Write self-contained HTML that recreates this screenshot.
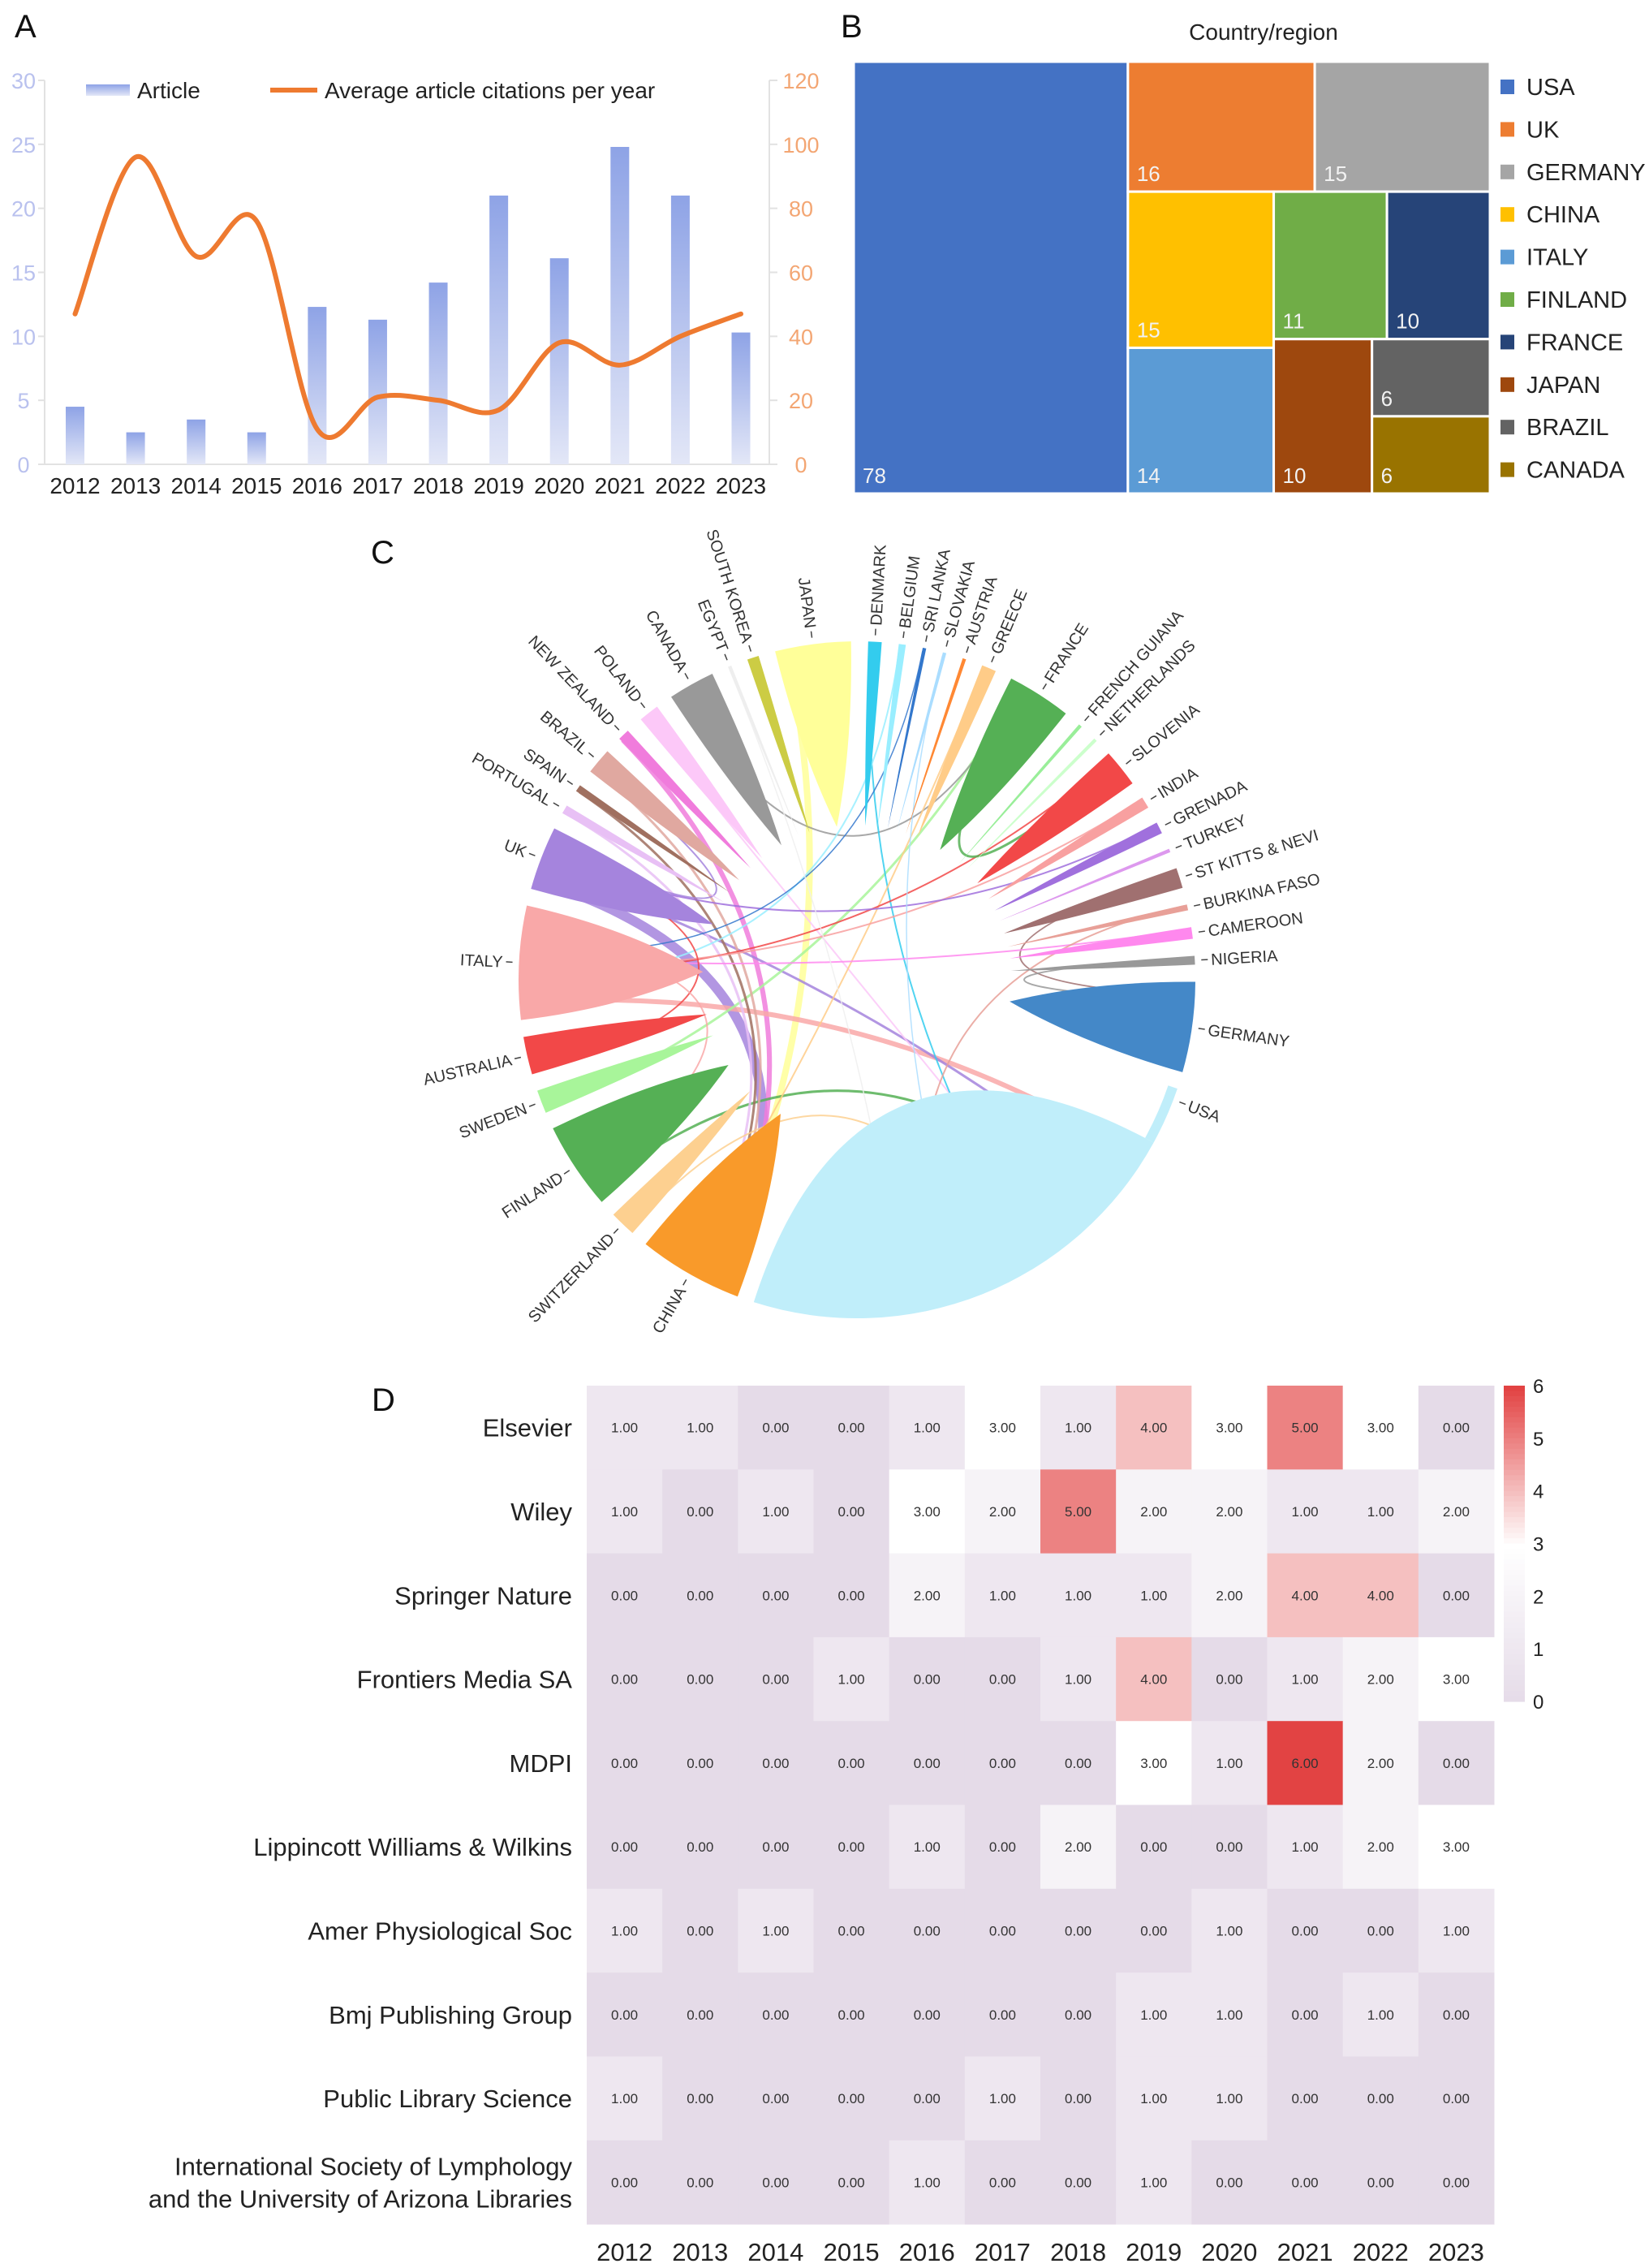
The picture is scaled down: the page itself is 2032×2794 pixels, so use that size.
<!DOCTYPE html>
<html><head><meta charset="utf-8"><style>
html,body{margin:0;padding:0;background:#fff;}
svg{display:block;font-family:"Liberation Sans",Arial,sans-serif;}
</style></head><body>
<svg id="root" width="2032" height="2794" viewBox="0 0 2032 2794" xmlns="http://www.w3.org/2000/svg">
<defs>
<linearGradient id="barGrad" x1="0" y1="0" x2="0" y2="1">
<stop offset="0" stop-color="#8ea3e6"/><stop offset="1" stop-color="#e3e7f7"/></linearGradient>
</defs>
<g id="panelA"></g>
<g id="panelB"></g>
<g id="panelC"></g>
<g id="panelD"></g>
</svg>
<script>
const NS='http://www.w3.org/2000/svg';
function mk(parent,tag,attrs,text){const e=document.createElementNS(NS,tag);for(const k in attrs)e.setAttribute(k,attrs[k]);if(text!==undefined)e.textContent=text;parent.appendChild(e);return e;}

// ---------- Panel A data ----------
const years=['2012','2013','2014','2015','2016','2017','2018','2019','2020','2021','2022','2023'];
const articleCounts=[4.5,2.5,3.5,2.5,12.3,11.3,14.2,21,16.1,24.8,21,10.3];
const avgCitations=[47,96,65,76,11,21,20,17,38,31,40,47];
const leftTicks=[0,5,10,15,20,25,30];
const rightTicks=[0,20,40,60,80,100,120];

// ---------- Panel B data ----------
const tmCountries=['USA','UK','GERMANY','CHINA','ITALY','FINLAND','FRANCE','JAPAN','BRAZIL','CANADA'];
const tmValues=[78,16,15,15,14,11,10,10,6,6];
const tmColors=['#4472c4','#ed7d31','#a5a5a5','#ffc000','#5b9bd5','#70ad47','#264478','#9e480e','#636363','#997300'];

// ---------- Panel C data ----------
const chordCountries=['JAPAN','DENMARK','BELGIUM','SRI LANKA','SLOVAKIA','AUSTRIA','GREECE','FRANCE','FRENCH GUIANA','NETHERLANDS','SLOVENIA','INDIA','GRENADA','TURKEY','ST KITTS & NEVI','BURKINA FASO','CAMEROON','NIGERIA','GERMANY','USA','CHINA','SWITZERLAND','FINLAND','SWEDEN','AUSTRALIA','ITALY','UK','PORTUGAL','SPAIN','BRAZIL','NEW ZEALAND','POLAND','CANADA','EGYPT','SOUTH KOREA'];
const chordValues=[13,2.3,1.2,0.6,0.6,0.6,2.5,11,0.6,0.6,6.5,2,2,0.6,3.5,1,2,1.5,15.5,89,18,4.5,15,4,6.5,19.5,11,1.5,1.2,4.5,2,3.5,8,0.6,2];
const chordColors=['#ffff99','#33ccee','#99eeff','#3377cc','#aaddff','#ff8833','#ffcc88','#55b055','#99ee99','#ccffcc','#f24848','#f8a0a0','#a070dd','#dd99ee','#a07070','#e8a098','#ff88ee','#999999','#4488c8','#c0eefa','#f99a2a','#fdd090','#55b055','#a8f59a','#f24848','#f9a8a8','#a584dd','#e8c0f5','#a07060','#e0a8a0','#f07cdc','#fcc8f8','#999999','#eeeeee','#cccc44'];
const linkFrom=['UK','NEW ZEALAND','JAPAN','ITALY','UK','SWEDEN','CANADA','FINLAND','BRAZIL','SPAIN','PORTUGAL','POLAND','DENMARK','BELGIUM','GREECE','SLOVENIA','INDIA','GRENADA','ST KITTS & NEVI','CAMEROON','NIGERIA','SWITZERLAND','AUSTRALIA','FRANCE','SLOVAKIA','BURKINA FASO','SRI LANKA','EGYPT','UK','ITALY'];
const linkTo=['CHINA','CHINA','CHINA','USA','USA','FRANCE','FRANCE','USA','CHINA','CHINA','CHINA','USA','USA','ITALY','CHINA','ITALY','ITALY','UK','GERMANY','ITALY','GERMANY','USA','UK','SLOVENIA','USA','USA','ITALY','USA','BRAZIL','FINLAND'];
const linkWidth=[12,6,8,6,3,3,2,3,3,3,3,2,2,2,2,2,2,2,2,2,2,2,2,3,1.5,2,1.5,1.5,2,2];

// ---------- Panel D data ----------
const publishers=['Elsevier','Wiley','Springer Nature','Frontiers Media SA','MDPI','Lippincott Williams & Wilkins','Amer Physiological Soc','Bmj Publishing Group','Public Library Science','International Society of Lymphology|and the University of Arizona Libraries'];
const hmYears=['2012','2013','2014','2015','2016','2017','2018','2019','2020','2021','2022','2023'];
const hmRow0=[1,1,0,0,1,3,1,4,3,5,3,0];
const hmRow1=[1,0,1,0,3,2,5,2,2,1,1,2];
const hmRow2=[0,0,0,0,2,1,1,1,2,4,4,0];
const hmRow3=[0,0,0,1,0,0,1,4,0,1,2,3];
const hmRow4=[0,0,0,0,0,0,0,3,1,6,2,0];
const hmRow5=[0,0,0,0,1,0,2,0,0,1,2,3];
const hmRow6=[1,0,1,0,0,0,0,0,1,0,0,1];
const hmRow7=[0,0,0,0,0,0,0,1,1,0,1,0];
const hmRow8=[1,0,0,0,0,1,0,1,1,0,0,0];
const hmRow9=[0,0,0,0,1,0,0,1,0,0,0,0];
const hmMatrix=[hmRow0,hmRow1,hmRow2,hmRow3,hmRow4,hmRow5,hmRow6,hmRow7,hmRow8,hmRow9];
const cbTicks=[0,1,2,3,4,5,6];

// ================= Panel A =================
(function(){
const g=document.getElementById('panelA');
let t=mk(g,'text',{x:18,y:46,'font-size':40,fill:'#111'},'A');


const L=55,R=948,T=99,B=572;
const x=i=>92.5+i*(913-92.5)/(years.length-1);
const yL=v=>B-v/30*(B-T);
const yR=v=>B-v/120*(B-T);
let ax=mk(g,'path',{d:`M${L},${T}V${B}H${R}V${T}`,stroke:'#e2e2e2','stroke-width':2,fill:'none'});


leftTicks.forEach(v=>{
 let e=mk(g,'text',{x:29,y:yL(v)+10,'font-size':27,fill:'#b9c1ee','text-anchor':'middle'},v);
 
 
 mk(g,'line',{x1:L-8,x2:L,y1:yL(v),y2:yL(v),stroke:'#e2e2e2','stroke-width':2});
});
rightTicks.forEach(v=>{
 let e=mk(g,'text',{x:987,y:yR(v)+10,'font-size':27,fill:'#f3a673','text-anchor':'middle'},v);
 
 
 mk(g,'line',{x1:R,x2:R+10,y1:yR(v),y2:yR(v),stroke:'#e2e2e2','stroke-width':2});
});
articleCounts.forEach((v,i)=>{
 let b=mk(g,'rect',{x:x(i)-11.5,y:yL(v),width:23,height:B-yL(v),fill:'url(#barGrad)'});
 
 
 let e=mk(g,'text',{x:x(i),y:608,'font-size':28,fill:'#222','text-anchor':'middle'},years[i]);
 
 
});
const pts=avgCitations.map((v,i)=>[x(i),yR(v)]);
let d=`M${pts[0][0]},${pts[0][1]}`;
for(let i=0;i<pts.length-1;i++){
 const p0=pts[Math.max(0,i-1)],p1=pts[i],p2=pts[i+1],p3=pts[Math.min(pts.length-1,i+2)];
 const c1=[p1[0]+(p2[0]-p0[0])/6,p1[1]+(p2[1]-p0[1])/6];
 const c2=[p2[0]-(p3[0]-p1[0])/6,p2[1]-(p3[1]-p1[1])/6];
 d+=`C${c1[0]},${c1[1]} ${c2[0]},${c2[1]} ${p2[0]},${p2[1]}`;
}
let ln=mk(g,'path',{d:d,stroke:'#ee7a30','stroke-width':6,fill:'none','stroke-linecap':'round'});


let s1=mk(g,'rect',{x:106,y:104,width:54,height:14,fill:'url(#barGrad)'});


let l1=mk(g,'text',{x:169,y:121,'font-size':28,fill:'#222'},'Article');


let s2=mk(g,'line',{x1:333,x2:391,y1:111,y2:111,stroke:'#ee7a30','stroke-width':6});


let l2=mk(g,'text',{x:400,y:121,'font-size':28,fill:'#222'},'Average article citations per year');


})();

// ================= Panel B =================
(function(){
const g=document.getElementById('panelB');
let t=mk(g,'text',{x:1036,y:46,'font-size':40,fill:'#111'},'B');


let tt=mk(g,'text',{x:1557,y:49,'font-size':28,fill:'#222','text-anchor':'middle'},'Country/region');


const tree=['h',0,['v',['h',1,2],['h',['v',3,4],['v',['h',5,6],['h',7,['v',8,9]]]]]];
const sum=n=>typeof n==='number'?tmValues[n]:sum(n[1])+sum(n[2]);
function lay(n,x,y,w,h){
 if(typeof n==='number'){
  let r=mk(g,'rect',{x:x,y:y,width:w,height:h,fill:tmColors[n],stroke:'#fff','stroke-width':3});
  
  
  let v=mk(g,'text',{x:x+11,y:y+h-13,'font-size':26,fill:'#f2f2f2'},tmValues[n]);
  
  
  return;
 }
 const a=sum(n[1]),b=sum(n[2]),f=a/(a+b);
 if(n[0]==='h'){lay(n[1],x,y,w*f,h);lay(n[2],x+w*f,y,w*(1-f),h);}
 else{lay(n[1],x,y,w,h*f);lay(n[2],x,y+h*f,w,h*(1-f));}
}
lay(tree,1052,76,784,532);
tmCountries.forEach((c,i)=>{
 const yc=107+i*52.4;
 let s=mk(g,'rect',{x:1849,y:yc-9,width:17,height:18,fill:tmColors[i]});
 
 
 let e=mk(g,'text',{x:1881,y:yc+10,'font-size':29,fill:'#222'},c);
 
 
});
})();

// ================= Panel C =================
(function(){
const g=document.getElementById('panelC');
let t=mk(g,'text',{x:457,y:694,'font-size':40,fill:'#111'},'C');


const cx=1056,cy=1207,R=417;
const total=chordValues.reduce((a,b)=>a+b,0);
const gap=(360-total)/chordValues.length;
const start=[],end=[];
let a=-14;
chordValues.forEach((v,i)=>{start.push(a);end.push(a+v);a+=v+gap;});
const P=(deg,r)=>{const rad=deg*Math.PI/180;return [cx+r*Math.sin(rad),cy-r*Math.cos(rad)];};
const idx=n=>chordCountries.indexOf(n);
const used=chordCountries.map(()=>0.15);
linkFrom.forEach((f,k)=>{
 const i=idx(f),j=idx(linkTo[k]);
 const ai=start[i]+(end[i]-start[i])*Math.min(0.9,used[i]);used[i]+=0.2;
 const aj=start[j]+(end[j]-start[j])*Math.min(0.9,used[j]);used[j]+=0.07;
 const p1=P(ai,R-4),p2=P(aj,R-4);
 let l=mk(g,'path',{d:`M${p1[0]},${p1[1]}Q${cx},${cy} ${p2[0]},${p2[1]}`,stroke:chordColors[i],'stroke-width':linkWidth[k],fill:'none',opacity:0.85});
 
 
});
chordCountries.forEach((c,i)=>{
 const a1=start[i],a2=end[i],m=(a1+a2)/2;
 const p1=P(a1,R),p2=P(a2,R);
 let d;
 if(c==='USA'){
  const s=a1+10;const q1=P(s,R);
  const k1=P(a2,0.35*R),k2=P(s,0.35*R);
  d=`M${q1[0]},${q1[1]}A${R},${R} 0 0 1 ${p2[0]},${p2[1]}C${k1[0]},${k1[1]} ${k2[0]},${k2[1]} ${q1[0]},${q1[1]}Z`;
  let band=mk(g,'path',{d:`M${p1[0]},${p1[1]}A${R},${R} 0 0 1 ${q1[0]},${q1[1]}L${P(s,R-12)[0]},${P(s,R-12)[1]}A${R-12},${R-12} 0 0 0 ${P(a1,R-12)[0]},${P(a1,R-12)[1]}Z`,fill:'#c0eefa'});
  
  
 }else{
  const tip=P(m,190);
  const c1=P(a1,290),c2=P(a2,290);
  const large=(a2-a1)>180?1:0;
  d=`M${p1[0]},${p1[1]}A${R},${R} 0 ${large} 1 ${p2[0]},${p2[1]}Q${c2[0]},${c2[1]} ${tip[0]},${tip[1]}Q${c1[0]},${c1[1]} ${p1[0]},${p1[1]}Z`;
 }
 let s=mk(g,'path',{d:d,fill:chordColors[i]});
 
 
 const lm=c==='USA'?a1+2:m;
 const tk1=P(lm,R+8),tk2=P(lm,R+16);
 mk(g,'line',{x1:tk1[0],y1:tk1[1],x2:tk2[0],y2:tk2[1],stroke:'#444','stroke-width':1.5});
 const mm=((lm%360)+360)%360;
 let lbl;
 if(mm<=180){
  lbl=mk(g,'text',{x:R+20,y:7,'font-size':20,fill:'#333',transform:`translate(${cx},${cy}) rotate(${lm-90})`},c);
 }else{
  lbl=mk(g,'text',{x:-(R+20),y:7,'font-size':20,fill:'#333','text-anchor':'end',transform:`translate(${cx},${cy}) rotate(${lm+90})`},c);
 }
 
 
});
})();

// ================= Panel D =================
(function(){
const g=document.getElementById('panelD');
let t=mk(g,'text',{x:458,y:1738,'font-size':40,fill:'#111'},'D');


const X0=723,Y0=1707,X1=1841,Y1=2740;
const cw=(X1-X0)/hmYears.length,ch=(Y1-Y0)/publishers.length;
const lo=[229,219,232],mid=[255,255,255],hi=[226,67,67];
function col(v){
 const f=v<=3?v/3:(v-3)/3,a=v<=3?lo:mid,b=v<=3?mid:hi;
 return 'rgb('+a.map((q,k)=>Math.round(q+(b[k]-q)*f)).join(',')+')';
}
hmMatrix.forEach((row,r)=>{
 row.forEach((v,c)=>{
  let cell=mk(g,'rect',{x:X0+c*cw,y:Y0+r*ch,width:cw+0.5,height:ch+0.5,fill:col(v)});
  
  
  let tx=mk(g,'text',{x:X0+c*cw+cw/2,y:Y0+r*ch+ch/2+6,'font-size':17,fill:'#333','text-anchor':'middle'},v.toFixed(2));
  
  
 });
 const parts=publishers[r].split('|');
 parts.forEach((p,k)=>{
  const yy=Y0+r*ch+ch/2+11+(k-(parts.length-1)/2)*40;
  let e=mk(g,'text',{x:705,y:yy,'font-size':31,fill:'#222','text-anchor':'end'},p);
  
  
 });
});
hmYears.forEach((y,c)=>{
 let e=mk(g,'text',{x:X0+c*cw+cw/2,y:2785,'font-size':31,fill:'#222','text-anchor':'middle'},y);
 
 
});
const CB0=1707,CB1=2096,n=60;
for(let k=0;k<n;k++){
 const v=6-6*k/n;
 let r=mk(g,'rect',{x:1853,y:CB0+k*(CB1-CB0)/n,width:26,height:(CB1-CB0)/n+0.6,fill:col(v)});
 
 
}
cbTicks.forEach(v=>{
 const yy=CB1-v/6*(CB1-CB0);
 let e=mk(g,'text',{x:1889,y:yy+9,'font-size':24,fill:'#222'},v);
 
 
});
})();
</script>
</body></html>
